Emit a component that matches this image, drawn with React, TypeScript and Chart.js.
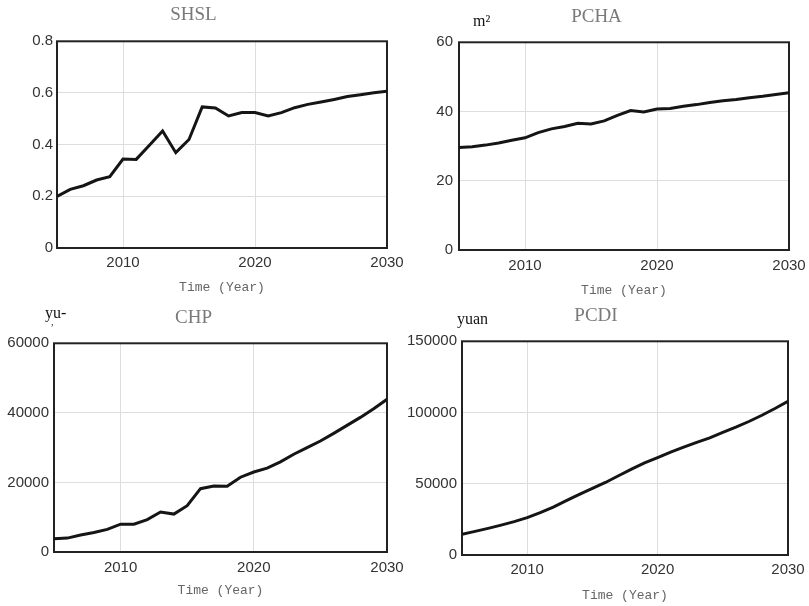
import React, { useEffect, useRef } from "react";
import { Chart, registerables } from "chart.js";

Chart.register(...registerables);

const YEARS = [2005, 2006, 2007, 2008, 2009, 2010, 2011, 2012, 2013, 2014, 2015, 2016, 2017, 2018, 2019, 2020, 2021, 2022, 2023, 2024, 2025, 2026, 2027, 2028, 2029, 2030];
const X_TICKS = [2010, 2020, 2030];

const SHSL = [0.2, 0.227, 0.241, 0.263, 0.276, 0.344, 0.343, 0.398, 0.453, 0.369, 0.42, 0.546, 0.542, 0.511, 0.524, 0.524, 0.511, 0.524, 0.543, 0.556, 0.565, 0.575, 0.586, 0.593, 0.601, 0.607];
const PCHA = [29.6, 29.8, 30.3, 30.9, 31.7, 32.4, 33.9, 35.0, 35.7, 36.6, 36.4, 37.3, 38.9, 40.3, 39.9, 40.7, 40.9, 41.5, 42.0, 42.6, 43.1, 43.5, 44.0, 44.4, 44.9, 45.4];
const CHP = [3800, 4000, 4900, 5600, 6500, 8000, 8000, 9300, 11500, 10900, 13300, 18200, 19000, 18900, 21500, 23000, 24100, 25900, 28100, 30000, 31900, 34100, 36400, 38700, 41200, 43900];
const PCDI = [14500, 16600, 18700, 21000, 23400, 26200, 29700, 33600, 38100, 42500, 46700, 50900, 55600, 60300, 64700, 68400, 72200, 75700, 79000, 82200, 86000, 89700, 93700, 98100, 102800, 107900];

const SHSL_Y_TICKS = [0, 0.2, 0.4, 0.6, 0.8];
const PCHA_Y_TICKS = [0, 20, 40, 60];
const CHP_Y_TICKS = [0, 20000, 40000, 60000];
const PCDI_Y_TICKS = [0, 50000, 100000, 150000];

type Panel = {
  title: string;
  data: number[];
  yTicks: number[];
  unit?: { lines: { text: string; x: number; y: number; size: number }[] };
  box: { left: number; top: number; width: number; height: number };
  yAxisWidth: number;
  xAxisHeight: number;
  padRight: number;
  titlePad: { top: number; bottom: number };
  yTickPad: number;
  xTickPad: number;
  xTitlePadBottom: number;
};

const PANELS: Panel[] = [
  {
    title: "SHSL", data: SHSL, yTicks: SHSL_Y_TICKS,
    box: { left: 0, top: 0, width: 413, height: 300 },
    yAxisWidth: 57, xAxisHeight: 52, padRight: 26,
    titlePad: { top: 3.5, bottom: 15 }, yTickPad: 4, xTickPad: 6, xTitlePadBottom: 4.8,
  },
  {
    title: "PCHA", data: PCHA, yTicks: PCHA_Y_TICKS,
    unit: { lines: [{ text: "m²", x: 69, y: 26, size: 16 }] },
    box: { left: 404, top: 0, width: 411, height: 300 },
    yAxisWidth: 55, xAxisHeight: 50, padRight: 26,
    titlePad: { top: 5.5, bottom: 14 }, yTickPad: 6, xTickPad: 7, xTitlePadBottom: 1.8,
  },
  {
    title: "CHP", data: CHP, yTicks: CHP_Y_TICKS,
    unit: { lines: [{ text: "yu-", x: 45, y: 18, size: 16 }, { text: ",", x: 51, y: 25, size: 10 }] },
    box: { left: 0, top: 300, width: 413, height: 306 },
    yAxisWidth: 54, xAxisHeight: 54, padRight: 26,
    titlePad: { top: 6.5, bottom: 14 }, yTickPad: 5, xTickPad: 7, xTitlePadBottom: 7.8,
  },
  {
    title: "PCDI", data: PCDI, yTicks: PCDI_Y_TICKS,
    unit: { lines: [{ text: "yuan", x: 53, y: 24, size: 16 }] },
    box: { left: 404, top: 300, width: 410, height: 306 },
    yAxisWidth: 58, xAxisHeight: 51, padRight: 26,
    titlePad: { top: 4.5, bottom: 14 }, yTickPad: 5, xTickPad: 6, xTitlePadBottom: 2.8,
  },
];

const frameAndUnit = {
  id: "frameAndUnit",
  beforeDatasetsDraw(chart: any) {
    const { ctx, chartArea } = chart;
    ctx.save();
    ctx.strokeStyle = "#222";
    ctx.lineWidth = 2;
    ctx.strokeRect(chartArea.left, chartArea.top, chartArea.right - chartArea.left, chartArea.bottom - chartArea.top);
    ctx.restore();
  },
  afterDraw(chart: any, _args: any, opts: any) {
    if (!opts || !opts.lines) return;
    const { ctx } = chart;
    ctx.save();
    ctx.fillStyle = "#111";
    ctx.textAlign = "left";
    ctx.textBaseline = "alphabetic";
    for (const l of opts.lines) {
      ctx.font = `${l.size}px "Liberation Serif", serif`;
      ctx.fillText(l.text, l.x, l.y);
    }
    ctx.restore();
  },
};

function PanelChart({ p }: { p: Panel }) {
  const ref = useRef<HTMLCanvasElement | null>(null);
  useEffect(() => {
    if (!ref.current) return;
    const chart = new Chart(ref.current, {
      type: "line",
      data: {
        labels: YEARS,
        datasets: [
          {
            data: p.data,
            borderColor: "#151515",
            borderWidth: 3,
            pointRadius: 0,
            tension: 0,
            fill: false,
          },
        ],
      },
      options: {
        responsive: false,
        animation: false,
        layout: { padding: { left: 0, top: 0, right: p.padRight, bottom: 0 } },
        plugins: {
          legend: { display: false },
          tooltip: { enabled: false },
          title: {
            display: true,
            text: p.title,
            color: "#7a7a7a",
            font: { family: '"Liberation Serif", serif', size: 19, weight: "normal" },
            padding: p.titlePad,
          },
          frameAndUnit: p.unit || {},
        } as any,
        scales: {
          x: {
            type: "linear",
            min: 2005,
            max: 2030,
            afterBuildTicks: (scale: any) => {
              scale.ticks = X_TICKS.map((v) => ({ value: v }));
            },
            afterFit: (scale: any) => {
              scale.height = p.xAxisHeight;
            },
            grid: { color: "#dddddd", lineWidth: 1, drawTicks: false },
            border: { display: false },
            ticks: {
              color: "#333",
              padding: p.xTickPad,
              maxRotation: 0,
              autoSkip: false,
              font: { family: '"Liberation Sans", Arial, sans-serif', size: 15 },
              callback: (v: any) => String(v),
            },
            title: {
              display: true,
              text: "Time (Year)",
              color: "#666",
              font: { family: '"Liberation Mono", monospace', size: 13 },
              padding: { top: 0, bottom: p.xTitlePadBottom },
            },
          },
          y: {
            type: "linear",
            min: p.yTicks[0],
            max: p.yTicks[p.yTicks.length - 1],
            afterBuildTicks: (scale: any) => {
              scale.ticks = p.yTicks.map((v) => ({ value: v }));
            },
            afterFit: (scale: any) => {
              scale.width = p.yAxisWidth;
            },
            grid: { color: "#dddddd", lineWidth: 1, drawTicks: false },
            border: { display: false },
            ticks: {
              color: "#333",
              padding: p.yTickPad,
              font: { family: '"Liberation Sans", Arial, sans-serif', size: 15 },
              callback: (v: any) => String(v),
            },
          },
        },
      } as any,
      plugins: [frameAndUnit],
    });
    return () => chart.destroy();
  }, [p]);
  return (
    <canvas
      ref={ref}
      width={p.box.width}
      height={p.box.height}
      style={{ position: "absolute", left: p.box.left, top: p.box.top, width: p.box.width, height: p.box.height, display: "block" }}
    />
  );
}

export default function App() {
  return (
    <div style={{ position: "fixed", left: 0, top: 0, width: 809, height: 606, background: "#fff", overflow: "hidden" }}>
      {PANELS.map((p) => (
        <PanelChart key={p.title} p={p} />
      ))}
    </div>
  );
}
